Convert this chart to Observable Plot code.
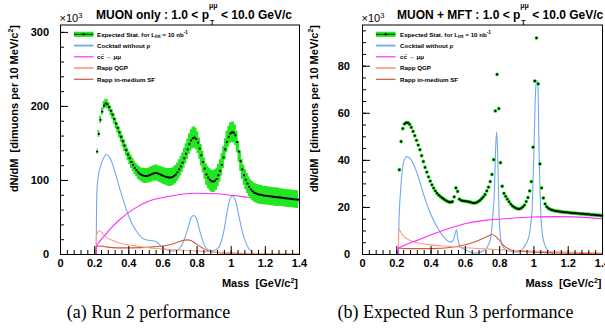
<!DOCTYPE html>
<html><head><meta charset="utf-8">
<script src="https://cdn.jsdelivr.net/npm/d3@7"></script>
<script src="https://cdn.jsdelivr.net/npm/@observablehq/plot@0.6"></script>
<style>
body{margin:0;background:#fff;}
#wrap{position:relative;width:605px;height:331px;overflow:hidden;background:#fff;}
#wrap svg{position:absolute;top:0;overflow:visible;}
</style></head><body><div id="wrap"></div>
<script>
// ---------- data ----------
const firstBin = 0.215, binWidth = 0.01;          // bin centres, 10 MeV bins
const run2Counts = [
 139,163,182,193,201,204,203,199,194,189,
 183,177,171,165,159,153,147,141,135,130,
 125,121,117,114,111,109,107.5,106.5,106,106,
 106.5,107.5,108.5,109.5,110,110,109,108,107,106,
 105,104.5,104,104,104.5,106,108,111,115,119,
 124,130,136,142,149,154,157,158,156,151,
 143,134,125,116,108,104,101,99,98.5,99.5,
 102,107,113,121,131,142,152,159,163.5,165,
 164.5,161,152,139,126,115,107,101,96,91.5,
 88,85.5,83.5,82.5,81.5,81,80.5,80,79.5,79.2,
 79,78.7,78.4,78,77.8,77.5,77.2,77,76.7,76.4,
 76.1,75.8,75.6,75.3,75,74.7,74.4,74.2,74];
const run2Err = [
 4,4.5,5,5,5.5,6,6,6,6.5,6.5,
 7,7,7,7.5,7.5,8,8,8,8.5,8.5,
 9,9,9,9,9.5,9.5,9.5,10,10,10,
 10,10.5,10.5,10.5,11,11,11,11,11.5,11.5,
 11.5,12,12,12,12,12.5,12.5,12.5,13,13,
 13,13.5,13.5,14,14,14.5,14.5,14.5,14.5,14.5,
 14.5,14.5,14.5,14.5,14.5,15,15,15,15,15,
 15,15,15,15,15,14.5,14.5,14,14,14,
 14,14,14,14,14,13.5,13.5,13.5,13.5,13,
 13,13,13,13,13,13,13,12.5,12.5,12.5,
 12.5,12.5,12.5,12.5,12.5,12.5,12.5,12,12,12,
 12,12,12,12,12,12,12,12,12];
const run3Counts = [
 36,48,53.5,55.5,56,56,55.3,54,52.3,50.5,
 48.5,46.5,44.5,42,39.5,37,35,33,31.2,29.6,
 28.2,27,26,25.2,24.6,24,23.5,23,22.6,22.3,
 22.2,22.5,24.5,28.3,26.8,23.5,23,22.8,22.7,22.6,
 22.5,22.3,22.1,21.9,21.9,22.1,22.5,23,23.7,24.5,
 25.5,27,28.6,31,34,40.3,61,76.5,62,39,
 29,26,24.7,23.5,22.4,21.4,20.6,20.1,19.7,19.4,
 19.4,19.6,20.2,21,22.5,24.2,27,31,45.6,73.7,
 92,72.5,38.5,28.3,24,21.5,20.3,19.6,19.2,18.9,
 18.7,18.5,18.4,18.3,18.2,18.1,18,17.9,17.9,17.8,
 17.7,17.6,17.6,17.5,17.5,17.4,17.3,17.3,17.2,17.1,
 17.1,17,16.9,16.9,16.8,16.7,16.7,16.6,16.5];

// model curves: [mass, dN/dM (x10^3)]
const run2Cocktail = [[0.209,0],[0.211,60],[0.215,92],[0.225,111],[0.234,119],[0.254,131],[0.27,135],[0.293,129],[0.322,109],[0.351,86],[0.381,64],[0.41,46],[0.449,30],[0.488,21],[0.527,19],[0.557,18],[0.586,12],[0.625,6],[0.654,4.5],[0.684,6],[0.713,14],[0.742,32],[0.762,48],[0.78,52.6],[0.797,48],[0.816,32],[0.84,14],[0.869,6],[0.898,5.4],[0.928,10],[0.957,32],[0.977,59],[0.996,77],[1.01,79],[1.025,73],[1.044,53],[1.064,32],[1.093,12],[1.122,3],[1.14,0],[1.4,0]];
const run2Ccbar = [[0,0],[0.209,0],[0.21,10],[0.234,19],[0.26,26],[0.293,35],[0.351,48],[0.43,61.6],[0.527,73],[0.625,78],[0.78,82.7],[0.918,82],[1.015,79.6],[1.113,77],[1.21,75],[1.4,70.6]];
const run2QGP = [[0.209,0],[0.21,25],[0.218,30],[0.226,32],[0.236,31],[0.25,27.5],[0.273,22.5],[0.3,19.5],[0.332,16.6],[0.38,13.5],[0.43,12],[0.5,9.5],[0.586,7.6],[0.7,6],[0.82,4.5],[0.9,3.2],[1.0,2.2],[1.2,1.3],[1.4,0.8]];
const run2SF = [[0.209,0],[0.21,11],[0.23,11.5],[0.26,10.5],[0.33,9],[0.42,9],[0.527,10],[0.625,12.5],[0.68,16],[0.71,18.5],[0.742,19.8],[0.765,19],[0.781,16.6],[0.81,12],[0.84,7.6],[0.87,4.5],[0.898,3],[0.95,2],[1.0,1.5],[1.2,1],[1.4,0.6]];

const run3Cocktail = [[0.209,0],[0.212,11.6],[0.222,27],[0.232,35.7],[0.245,40.5],[0.26,41.6],[0.28,40.6],[0.309,36.4],[0.338,30],[0.368,22.9],[0.397,17.3],[0.436,11.6],[0.474,7.4],[0.513,5.2],[0.533,6.7],[0.548,10.5],[0.556,6.7],[0.572,3.1],[0.611,1.7],[0.65,0.6],[0.688,1],[0.727,3.1],[0.747,6.7],[0.76,15.9],[0.77,28],[0.776,44],[0.782,52],[0.788,44],[0.795,22],[0.80,11.6],[0.815,3.8],[0.844,1.7],[0.902,1],[0.941,3.1],[0.97,7.4],[0.98,12],[0.99,20],[1.0,44],[1.01,70],[1.017,74],[1.024,70],[1.03,44],[1.04,18],[1.05,8],[1.07,3],[1.1,0.8],[1.12,0],[1.4,0]];
const run3Ccbar = [[0,0],[0.209,0],[0.21,2.6],[0.241,3.8],[0.319,6],[0.416,8.8],[0.513,11.3],[0.611,13.3],[0.727,14.6],[0.844,15.3],[1.0,15.9],[1.116,16.1],[1.23,16],[1.4,15.2]];
const run3QGP = [[0.209,0],[0.21,11.3],[0.218,10.2],[0.241,7.6],[0.28,6],[0.358,4.5],[0.513,3.4],[0.708,2.4],[0.902,1.7],[1.19,1],[1.4,0.6]];
const run3SF = [[0.209,0],[0.21,2.8],[0.241,2.5],[0.416,2.5],[0.552,3.4],[0.65,5.2],[0.727,7.6],[0.757,8.5],[0.786,7.1],[0.824,3.8],[0.883,1.7],[1.0,1],[1.4,0.4]];

// axes / ticks
const xMajorTicks = [0, 0.2, 0.4, 0.6, 0.8, 1.0, 1.2, 1.4];
const xTickLabels = ["0", "0.2", "0.4", "0.6", "0.8", "1", "1.2", "1.4"];
const xMinorStep = 0.04;
const run2YMajor = [0, 100, 200, 300];
const run2YMinorStep = 20;
const run3YMajor = [0, 20, 40, 60, 80];
const run3YMinorStep = 5;

const legendLabels = ["Expected Stat. for L", "Cocktail without ρ", "cc̄ → μμ", "Rapp QGP", "Rapp in-medium SF"];
const titles = ["MUON only : 1.0 < p", "MUON + MFT : 1.0 < p"];
const captions = ["(a) Run 2 performance", "(b) Expected Run 3 performance"];

// ---------- style ----------
const FONT = "'Liberation Sans', Arial, Helvetica, sans-serif";
const GREEN = "#22e622", BLUE = "#6eaaee", MAG = "#ff2cff", QGPC = "#fca184", SFC = "#d05a36";

function makePanel(o) {
  const bins = o.counts.map((c, i) => ({m: firstBin + binWidth * i, c, e: o.err ? o.err[i] : 0}));
  const pts = arr => arr.map(([m, v]) => ({m, v}));
  const xMinor = d3.range(0, 1.4 + 1e-9, xMinorStep);
  const yMinor = d3.range(0, o.yTop, o.yMinorStep);
  const lineOpts = (stroke) => ({x: "m", y: "v", stroke, strokeWidth: 1.1, curve: "monotone-x"});
  const marks = [
    Plot.line(pts(o.cocktail), lineOpts(BLUE)),
    Plot.line(pts(o.sf), lineOpts(SFC)),
    Plot.line(pts(o.qgp), lineOpts(QGPC)),
    Plot.line(pts(o.ccbar), lineOpts(MAG)),
  ];
  if (o.err) {
    marks.push(Plot.areaY(bins, {x: "m", y1: d => d.c - d.e, y2: d => d.c + d.e, curve: "step", fill: GREEN}));
  } else {
    marks.push(Plot.dot(bins, {x: "m", y: "c", r: 1.9, fill: GREEN, stroke: null}));
  }
  marks.push(Plot.dot(bins, {x: "m", y: "c", r: 1.1, symbol: "square", fill: "black", stroke: null}));
  marks.push(
    Plot.frame({stroke: "black", strokeWidth: 1}),
    Plot.axisX({ticks: xMinor, tickSize: 4, dy: -4, tickFormat: () => "", label: null, stroke: "black"}),
    Plot.axisX({ticks: xMajorTicks, tickSize: 8, dy: -8, tickFormat: () => "", label: null, stroke: "black"}),
    Plot.axisX({ticks: xMajorTicks, tickSize: 0, tickPadding: 5, tickFormat: (d, i) => xTickLabels[i], label: null,
      fontSize: 11, fontWeight: "bold", fill: "black"}),
    Plot.axisY({ticks: yMinor, tickSize: 4, dx: 4, tickFormat: () => "", label: null, stroke: "black"}),
    Plot.axisY({ticks: o.yMajor, tickSize: 8, dx: 8, tickFormat: () => "", label: null, stroke: "black"}),
    Plot.axisY({ticks: o.yMajor, tickSize: 0, tickPadding: o.tickPad, tickFormat: d => String(d), label: null,
      fontSize: 11, fontWeight: "bold", fill: "black"})
  );
  const svg = Plot.plot({
    width: o.width, height: 295,
    marginLeft: 60, marginRight: 3, marginTop: 24.5, marginBottom: 41,
    style: {fontFamily: FONT, background: "transparent", color: "black", overflow: "visible"},
    x: {domain: [0, 1.4]},
    y: {domain: [0, o.yTop]},
    marks
  });
  svg.style.left = o.left + "px";
  const g = d3.select(svg).append("g").attr("font-family", FONT).attr("fill", "black")
    .attr("text-anchor", "start").style("white-space", "pre");

  // title
  const t = g.append("text").attr("x", o.titleX).attr("y", 18.5).attr("font-size", 12).attr("font-weight", "bold");
  t.append("tspan").text(o.title);
  t.append("tspan").attr("font-size", 7).attr("dx", 1).attr("dy", 6).text("T");
  t.append("tspan").attr("font-size", 7).attr("dx", -5.3).attr("dy", -16.5).text("μμ");
  t.append("tspan").attr("font-size", 12).attr("dy", 10.5).text(" < 10.0 GeV/c");

  // x10^3
  const e = g.append("text").attr("x", 59.5).attr("y", 22.3).attr("font-size", 11);
  e.append("tspan").text("×10");
  e.append("tspan").attr("font-size", 7.5).attr("dy", -4).text("3");

  // y title
  const yt = g.append("text").attr("transform", `translate(${o.ytX},25) rotate(-90)`)
    .attr("text-anchor", "end").attr("font-size", 11).attr("font-weight", "bold");
  yt.append("tspan").text("dN/dM  [dimuons per 10 MeV/c");
  yt.append("tspan").attr("font-size", 7).attr("dy", -4.5).text("2");
  yt.append("tspan").attr("font-size", 11).attr("dy", 4.5).text("]");

  // x title
  const xt = g.append("text").attr("x", o.xtX).attr("y", 287).attr("text-anchor", "end")
    .attr("font-size", 11).attr("font-weight", "bold");
  xt.append("tspan").text("Mass  [GeV/c");
  xt.append("tspan").attr("font-size", 7).attr("dy", -4.5).text("2");
  xt.append("tspan").attr("font-size", 11).attr("dy", 4.5).text("]");

  // legend
  const lg = g.append("g");
  const x0 = 74, x1 = 93.5, tx = o.legTextX;
  const rows = legendLabels.map((s, i) => 34.3 + 11.25 * i);
  lg.append("rect").attr("x", x0).attr("y", rows[0] - 2.6).attr("width", x1 - x0).attr("height", 5.2).attr("fill", GREEN);
  lg.append("line").attr("x1", x0).attr("x2", x1).attr("y1", rows[0]).attr("y2", rows[0]).attr("stroke", "black").attr("stroke-width", 0.8);
  lg.append("rect").attr("x", (x0 + x1) / 2 - 1).attr("y", rows[0] - 1).attr("width", 2).attr("height", 2).attr("fill", "black");
  const lstyles = [null, [BLUE, 1.8], [MAG, 1.2], [QGPC, 1.8], [SFC, 1.2]];
  lstyles.forEach((s, i) => {
    if (!s) return;
    lg.append("line").attr("x1", x0).attr("x2", x1).attr("y1", rows[i]).attr("y2", rows[i]).attr("stroke", s[0]).attr("stroke-width", s[1]);
  });
  legendLabels.forEach((s, i) => {
    const tt = lg.append("text").attr("x", tx).attr("y", rows[i] + 2.2).attr("font-size", 6.2).attr("font-weight", "bold");
    tt.append("tspan").text(s);
    if (i === 0) {
      tt.append("tspan").attr("font-size", 4.5).attr("dy", 1.5).text("int");
      tt.append("tspan").attr("font-size", 6.2).attr("dy", -1.5).text(" = 10 nb");
      tt.append("tspan").attr("font-size", 4.5).attr("dy", -2.5).text("-1");
    }
  });
  return svg;
}

const wrap = document.getElementById("wrap");
wrap.appendChild(makePanel({
  left: 0, width: 302, yTop: 310, yMajor: run2YMajor, yMinorStep: run2YMinorStep, tickPad: 11.5,
  counts: run2Counts, err: run2Err, cocktail: run2Cocktail, ccbar: run2Ccbar, qgp: run2QGP, sf: run2SF,
  title: titles[0], titleX: 96, ytX: 17.5, xtX: 298, legTextX: 97
}));
wrap.appendChild(makePanel({
  left: 302, width: 303, yTop: 97.5, yMajor: run3YMajor, yMinorStep: run3YMinorStep, tickPad: 12.5,
  counts: run3Counts, err: null, cocktail: run3Cocktail, ccbar: run3Ccbar, qgp: run3QGP, sf: run3SF,
  title: titles[1], titleX: 95, ytX: 15.5, xtX: 299.5, legTextX: 98
}));

// captions
const cap = d3.create("svg").attr("width", 605).attr("height", 36).style("top", "295px").style("left", "0px");
[148.5, 455.5].forEach((cx, i) => {
  cap.append("text").attr("x", cx).attr("y", 23).attr("text-anchor", "middle")
    .attr("font-family", "'Liberation Serif', 'Times New Roman', serif").attr("font-size", 18)
    .attr("fill", "black").text(captions[i]);
});
wrap.appendChild(cap.node());
</script></body></html>
